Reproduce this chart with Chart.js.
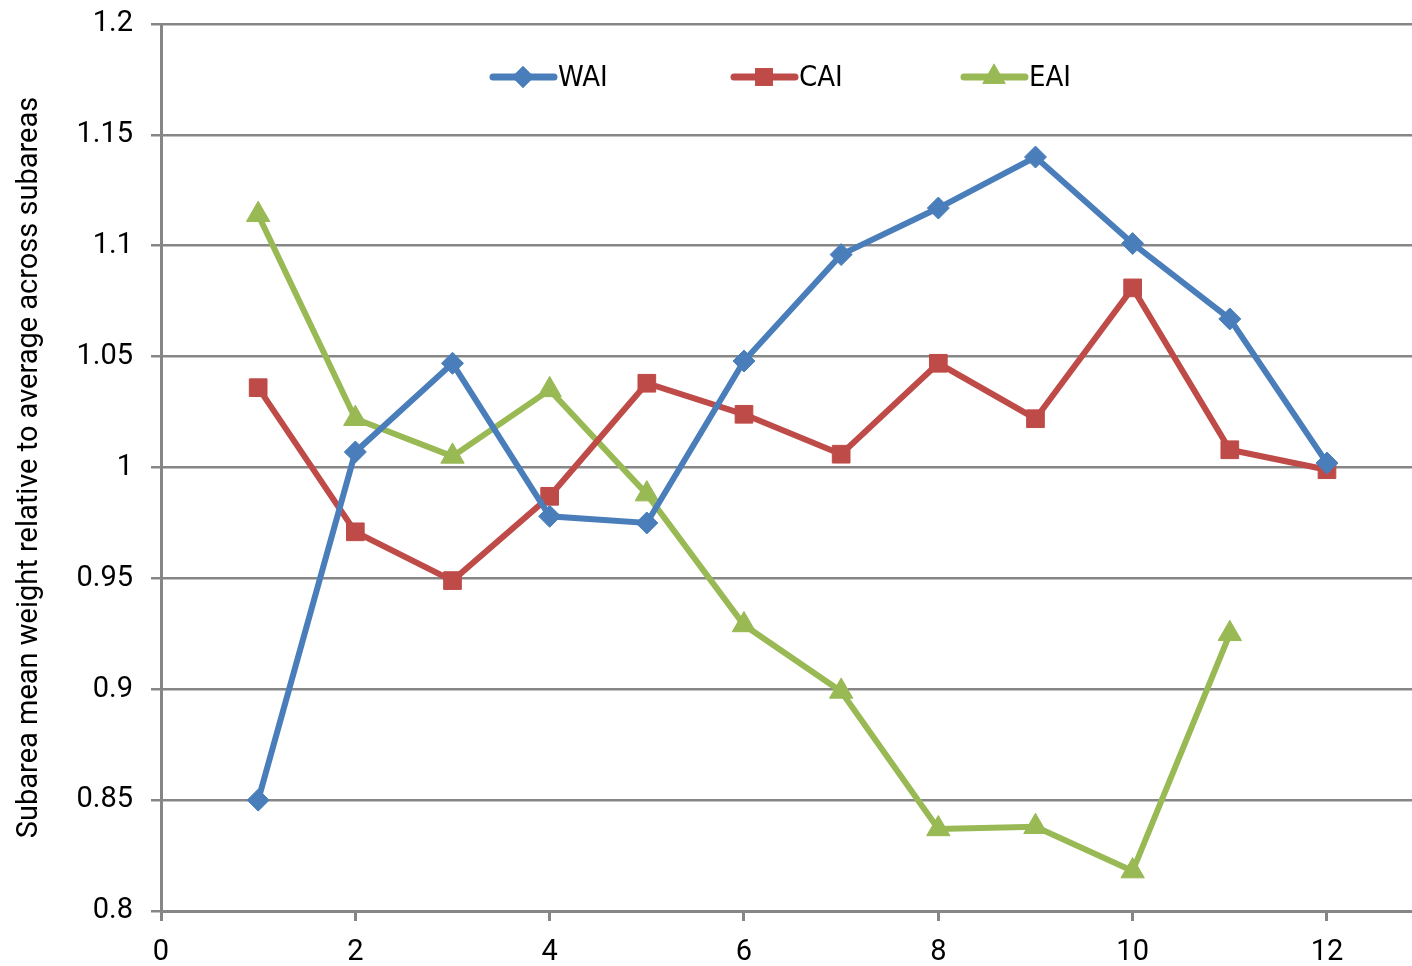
<!DOCTYPE html>
<html>
<head>
<meta charset="utf-8">
<script src="https://cdn.jsdelivr.net/npm/chart.js@4/dist/chart.umd.min.js"></script>
<style>
  html, body { margin: 0; padding: 0; background: #fff; overflow: hidden; }
  #wrap { width: 1412px; height: 966px; position: relative; }
</style>
</head>
<body>
<div id="wrap"><canvas id="myChart" width="1412" height="966"></canvas></div>
<script>
// subarea index on the x axis
const subareas = [1, 2, 3, 4, 5, 6, 7, 8, 9, 10, 11, 12];
const waiValues = [0.850, 1.007, 1.047, 0.978, 0.975, 1.048, 1.096, 1.117, 1.140, 1.101, 1.067, 1.002];
const caiValues = [1.036, 0.971, 0.949, 0.987, 1.038, 1.024, 1.006, 1.047, 1.022, 1.081, 1.008, 0.999];
const eaiValues = [1.114, 1.022, 1.005, 1.035, 0.988, 0.929, 0.899, 0.837, 0.838, 0.818, 0.925, null];
const xTicks = [0, 2, 4, 6, 8, 10, 12];
const seriesNames = ["WAI", "CAI", "EAI"];

const gray = "#868686";
const fontTicks = "Roboto, 'Noto Sans', sans-serif";

function pts(vals) {
	return subareas.map((x, i) => ({ x: x, y: vals[i] }));
}

function makeSet(name, vals, color, style, radius) {
	return {
		label: name,
		data: pts(vals),
		borderColor: color,
		backgroundColor: color,
		borderWidth: 6,
		pointStyle: style,
		pointRadius: radius,
		pointBorderWidth: 1,
		pointBackgroundColor: color,
		pointBorderColor: color,
		tension: 0,
		spanGaps: false
	};
}

// legend drawn inside the plot: line with marker through it
const insideLegend = {
	id: 'insideLegend',
	afterDraw(chart) {
		const ctx = chart.ctx;
		const y = 77;
		const starts = [490, 731, 961];
		chart.data.datasets.forEach((ds, i) => {
			const x0 = starts[i];
			ctx.save();
			ctx.strokeStyle = ds.borderColor;
			ctx.lineWidth = 7;
			ctx.lineCap = 'round';
			ctx.beginPath();
			ctx.moveTo(x0 + 3, y);
			ctx.lineTo(x0 + 64, y);
			ctx.stroke();
			ctx.fillStyle = ds.borderColor;
			Chart.helpers.drawPoint(ctx, { pointStyle: ds.pointStyle, radius: ds.pointRadius, borderWidth: 0 }, x0 + 33, y);
			ctx.fill();
			ctx.fillStyle = "#000";
			ctx.font = "29px 'Liberation Sans Narrow', 'DejaVu Sans Condensed', Roboto, sans-serif";
			ctx.textBaseline = 'middle';
			ctx.textAlign = 'left';
			ctx.fillText(ds.label, x0 + 68, y + 1);
			ctx.restore();
		});
	}
};

const ctx = document.getElementById('myChart');
new Chart(ctx, {
	type: 'line',
	data: {
		datasets: [
			makeSet(seriesNames[0], waiValues, "#4A7EBB", 'rectRot', 11),
			makeSet(seriesNames[1], caiValues, "#BE4B48", 'rect', 12.5),
			makeSet(seriesNames[2], eaiValues, "#98B954", 'triangle', 13.5)
		]
	},
	options: {
		responsive: false,
		animation: false,
		devicePixelRatio: 1,
		layout: { autoPadding: false, padding: { top: 24, right: 0, left: 0, bottom: 0 } },
		plugins: {
			legend: { display: false },
			tooltip: { enabled: false }
		},
		scales: {
			x: {
				type: 'linear',
				min: 0,
				max: 12.875,
				afterBuildTicks(scale) {
					scale.ticks = xTicks.map(v => ({ value: v }));
				},
				afterFit(scale) {
					scale.height = 55;
					scale.paddingRight = 0;
					scale.paddingLeft = 0;
				},
				grid: {
					display: true,
					drawOnChartArea: false,
					drawTicks: true,
					tickLength: 10,
					color: gray,
					lineWidth: 3
				},
				border: { display: true, color: gray, width: 3 },
				ticks: {
					color: "#000",
					font: { family: fontTicks, size: 29 },
					padding: 14,
					maxRotation: 0,
					autoSkip: false
				}
			},
			y: {
				min: 0.8,
				max: 1.2,
				afterFit(scale) {
					scale.width = 161;
					scale.paddingTop = 0;
					scale.paddingBottom = 0;
				},
				grid: {
					color: gray,
					lineWidth: 2.5,
					drawTicks: true,
					tickLength: 10
				},
				border: { display: true, color: gray, width: 3 },
				ticks: {
					stepSize: 0.05,
					color: "#000",
					font: { family: fontTicks, size: 29 },
					padding: 18,
					callback: v => String(Math.round(v * 100) / 100)
				},
				title: {
					display: true,
					text: "Subarea mean weight relative to average across subareas",
					color: "#000",
					font: { family: fontTicks, size: 29 },
					padding: { top: 12, bottom: 0 }
				}
			}
		}
	},
	plugins: [insideLegend]
});
</script>
</body>
</html>
